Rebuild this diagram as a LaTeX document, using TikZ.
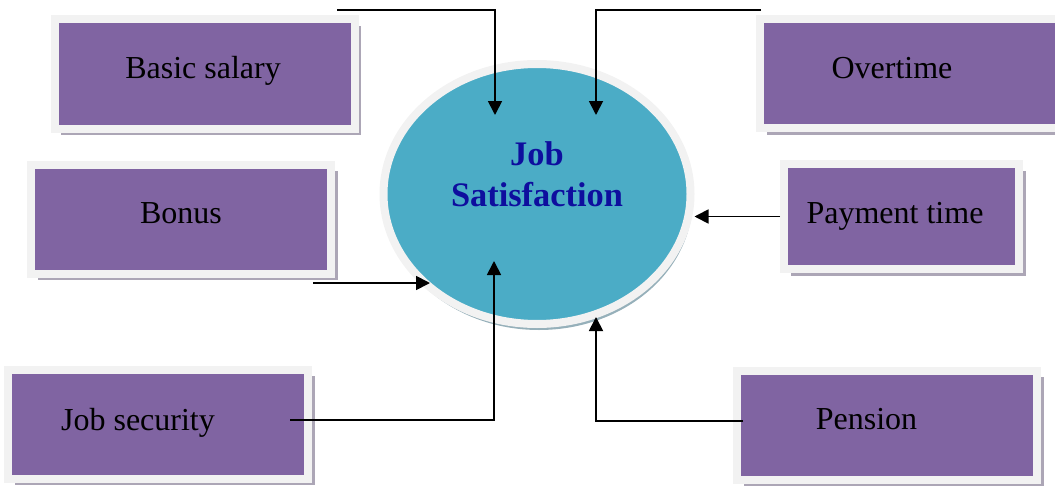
\documentclass[tikz,border=0pt]{standalone}
\usepackage{fontspec}
\setmainfont{Liberation Serif}
\usetikzlibrary{shapes.geometric,shadows,arrows.meta,calc}
\definecolor{boxfill}{RGB}{128,100,162}
\definecolor{rimgray}{RGB}{242,242,242}
\definecolor{boxshadow}{RGB}{172,166,182}
\definecolor{satfill}{RGB}{75,172,198}
\definecolor{satshadow}{RGB}{150,176,186}
\definecolor{satblue}{RGB}{14,14,158}

\begin{document}
\begin{tikzpicture}[x=1pt,y=-1pt,
  factor/.style={rectangle,fill=boxfill,draw=rimgray,line width=8pt,
    minimum width=300pt,minimum height=109pt,inner sep=0pt,
    drop shadow={shadow xshift=6.5pt,shadow yshift=-6.5pt,fill=boxshadow,opacity=1}},
  every label/.style={font=\fontsize{32}{38}\selectfont,text=black,inner sep=0pt},
  link/.style={line width=1.8pt,-{Triangle[length=14pt,width=14pt]}}]

\useasboundingbox (0,0) rectangle (1055,487);

%%% Factors on the left
\node[factor,label={[xshift=-1.5pt,yshift=3.5pt]center:Basic salary}] (basic) at (204.5,74) {};
\node[factor,label={[yshift=5.5pt]center:Bonus}] (bonus) at (181,219) {};
\node[factor,label={[xshift=-20pt,yshift=1.5pt]center:Job security}] (security) at (158,424) {};

%%% Factors on the right
\node[factor,label={[xshift=-18pt,yshift=5.5pt]center:Overtime}] (overtime) at (910,73.5) {};
\node[factor,minimum width=235pt,minimum height=105pt,label={[xshift=-6.5pt]center:Payment time}] (paytime) at (901.5,216.5) {};
\node[factor,label={[xshift=-20.5pt,yshift=5.5pt]center:Pension}] (pension) at (887,425) {};

%%% Job satisfaction in the middle
\node[ellipse,fill=satfill,draw=rimgray,line width=8pt,minimum width=307pt,minimum height=260pt,inner sep=0pt,
  drop shadow={shadow xshift=2pt,shadow yshift=-6pt,fill=satshadow,opacity=1}] (jobsat) at (537,194) {};
\node[align=center,text=satblue,font=\bfseries\fontsize{34.4}{40.7}\selectfont] (jobsat-text) at ([yshift=20pt]jobsat.center) {Job\\Satisfaction};

%%% Free ends of the connectors
\coordinate (basic-out) at (337,10);
\coordinate (overtime-out) at (761,10);
\coordinate (bonus-out) at (313,283);
\coordinate (security-out) at (290,420);
\coordinate (pension-out) at (743,421);

\draw[link] (basic-out) -| ($(jobsat.center)+(-42,-79)$);
\draw[link] (overtime-out) -| ($(jobsat.center)+(59,-79)$);
\draw[link] (paytime.west) -- (paytime.west -| jobsat.east);
\draw[link] (bonus-out) -- ($(jobsat.center)+(-107,89)$);
\draw[link] (security-out) -| ($(jobsat.center)+(-43,67)$);
\draw[link] (pension-out) -| ($(jobsat.center)+(59,123)$);
\end{tikzpicture}
\end{document}
